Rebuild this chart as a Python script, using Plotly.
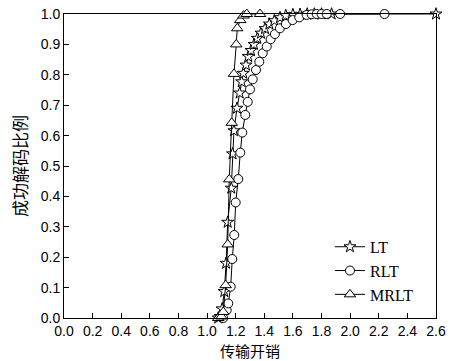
import plotly.graph_objects as go

lt_x = [1.078, 1.092, 1.105, 1.12, 1.133, 1.144, 1.169, 1.178, 1.188, 1.209, 1.228, 1.242, 1.253, 1.272,
        1.288, 1.307, 1.328, 1.351, 1.377, 1.405, 1.435, 1.47, 1.51, 1.55, 1.6, 1.65, 1.7, 1.75, 1.8, 1.87, 2.6]
lt_y = [0.0, 0.005, 0.03, 0.087, 0.18, 0.315, 0.427, 0.54, 0.616, 0.69, 0.74, 0.777, 0.805, 0.832,
        0.86, 0.88, 0.9, 0.92, 0.937, 0.952, 0.967, 0.978, 0.988, 0.995, 0.998, 0.999, 1.0, 1.0, 1.0, 1.0, 1.0]

rlt_x = [1.113, 1.137, 1.148, 1.165, 1.176, 1.19, 1.2, 1.218, 1.232, 1.246, 1.267, 1.284, 1.3, 1.319,
         1.342, 1.365, 1.389, 1.417, 1.444, 1.474, 1.509, 1.551, 1.598, 1.644, 1.696, 1.731, 1.766, 1.8,
         1.836, 1.93, 2.24]
rlt_y = [0.0, 0.026, 0.048, 0.103, 0.194, 0.273, 0.38, 0.457, 0.544, 0.61, 0.668, 0.711, 0.752, 0.785,
         0.816, 0.843, 0.871, 0.893, 0.917, 0.934, 0.953, 0.967, 0.98, 0.989, 0.997, 0.999, 1.0, 1.0,
         1.0, 1.0, 1.0]

mrlt_x = [1.078, 1.1, 1.113, 1.13, 1.144, 1.155, 1.172, 1.188, 1.204, 1.211, 1.232, 1.255, 1.277, 1.37]
mrlt_y = [0.0, 0.005, 0.02, 0.108, 0.242, 0.456, 0.642, 0.803, 0.9, 0.953, 0.98, 0.995, 1.0, 1.0]

x_ticks = [0.0, 0.2, 0.4, 0.6, 0.8, 1.0, 1.2, 1.4, 1.6, 1.8, 2.0, 2.2, 2.4, 2.6]
y_ticks = [0.0, 0.1, 0.2, 0.3, 0.4, 0.5, 0.6, 0.7, 0.8, 0.9, 1.0]

x_title = "传输开销"
y_title = "成功解码比例"

series = [
    ("LT", lt_x, lt_y, "star", 9),
    ("RLT", rlt_x, rlt_y, "circle", 9),
    ("MRLT", mrlt_x, mrlt_y, "triangle-up", 10),
]

fig = go.Figure()
for name, xs, ys, sym, sz in series:
    fig.add_trace(go.Scatter(
        x=xs, y=ys, name=name, mode="lines+markers",
        line=dict(color="black", width=1),
        marker=dict(symbol=sym, size=sz, color="white", line=dict(color="black", width=1)),
        cliponaxis=False,
    ))

tick_font = dict(family="Liberation Sans, Arial, sans-serif", size=14, color="black")
title_font = dict(family="Noto Sans CJK SC, sans-serif", size=17, color="black")

fig.add_annotation(
    text=x_title, xref="paper", yref="paper", x=0.5, y=0,
    xanchor="center", yanchor="top", yshift=-21, showarrow=False,
    font=dict(family="Noto Sans CJK SC, sans-serif", size=15, color="black"),
    borderpad=0,
)

fig.update_layout(
    width=454, height=361,
    margin=dict(l=64, r=18, t=14, b=43),
    paper_bgcolor="white", plot_bgcolor="white",
    showlegend=True,
    legend=dict(
        x=0.715, y=0.29, xanchor="left", yanchor="top",
        font=dict(family="Liberation Serif, Times New Roman, serif", size=16, color="black"),
        bgcolor="rgba(0,0,0,0)", borderwidth=0,
        itemwidth=30, tracegroupgap=0,
    ),
    xaxis=dict(
        range=[0, 2.6], tickvals=x_ticks, ticktext=[f"{v:.1f}" for v in x_ticks],
        ticks="inside", ticklen=5, tickcolor="black",
        showline=True, linecolor="black", linewidth=1, mirror=True,
        showgrid=False, zeroline=False, tickfont=tick_font, automargin=False,
    ),
    yaxis=dict(
        range=[0, 1.0], tickvals=y_ticks, ticktext=[f"{v:.1f}" for v in y_ticks],
        ticks="inside", ticklen=5, tickcolor="black",
        showline=True, linecolor="black", linewidth=1, mirror=True,
        showgrid=False, zeroline=False, tickfont=tick_font, automargin=False,
        title=dict(text=y_title, font=title_font, standoff=8),
    ),
)

fig.write_html("out.html")
